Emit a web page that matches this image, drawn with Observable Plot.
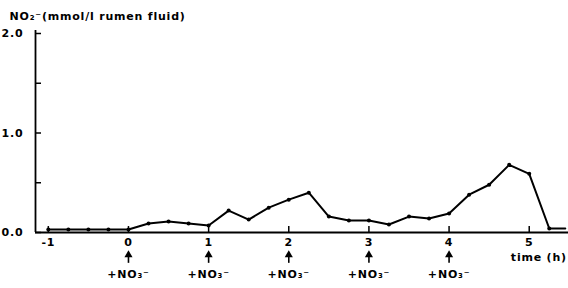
<!DOCTYPE html>
<html><head><meta charset="utf-8">
<script src="https://cdn.jsdelivr.net/npm/d3@7"></script>
<script src="https://cdn.jsdelivr.net/npm/@observablehq/plot@0.6"></script>
<style>body{margin:0;background:#fff}</style>
</head><body><div id="chart"></div>
<script>
const times = [-1,-0.75,-0.5,-0.25,0,0.25,0.5,0.75,1,1.25,1.5,1.75,2,2.25,2.5,2.75,3,3.25,3.5,3.75,4,4.25,4.5,4.75,5,5.25,5.45];
const nitrite = [0.03,0.03,0.03,0.03,0.03,0.09,0.11,0.09,0.07,0.22,0.13,0.25,0.33,0.40,0.16,0.12,0.12,0.08,0.16,0.14,0.19,0.38,0.48,0.68,0.59,0.04,0.04];
const xTicks = [-1,0,1,2,3,4,5];
const yTicks = [0,0.5,1,1.5,2];
const yLabels = [0,1,2];
const additions = [0,1,2,3,4];
const addLabel = "+NO\u2083\u207B";
const yTitle = "NO\u2082\u207B(mmol/l rumen fluid)";
const xTitle = "time (h)";

const data = times.map((t,i)=>({t, v: nitrite[i]}));
const xmin = -1.16, xmax = 5.49;
const font = "DejaVu Sans, Liberation Sans, sans-serif";

const chart = Plot.plot({
  width: 568, height: 288,
  marginLeft: 35, marginRight: 0, marginTop: 33, marginBottom: 56,
  style: {fontFamily: font, fontSize: "11px", fontWeight: 600, letterSpacing: "0.8px", color: "#000", background: "#fff", overflow: "visible"},
  x: {domain: [xmin, xmax]},
  y: {domain: [0, 2]},
  marks: [
    Plot.axisX(xTicks, {tickSize: 0, tickPadding: 6, tickFormat: d => d, fontSize: 11, label: null}),
    Plot.axisY(yLabels, {tickSize: 0, tickPadding: 12, tickFormat: d3.format(".1f"), fontSize: 11, label: null}),
    Plot.ruleY([0], {x1: xmin, x2: xmax, stroke: "#000", strokeWidth: 1.8}),
    Plot.ruleX([xmin], {y1: 0, y2: 2.03, stroke: "#000", strokeWidth: 1.8}),
    Plot.ruleX(xTicks, {x: d => d, y1: 0, y2: 0.06, stroke: "#000", strokeWidth: 1.5}),
    Plot.ruleY(yTicks, {y: d => d, x1: xmin, x2: xmin + 0.075, stroke: "#000", strokeWidth: 1.5}),
    Plot.line(data, {x: "t", y: "v", stroke: "#000", strokeWidth: 2}),
    Plot.dot(data.slice(0, 26), {x: "t", y: "v", r: 2, fill: "#000", stroke: null}),
    Plot.ruleX(additions, {x: d => d, y1: -0.31, y2: -0.22, stroke: "#000", strokeWidth: 1.6}),
    Plot.dot(additions, {x: d => d, y: -0.225, symbol: "triangle", r: 3, fill: "#000", stroke: null}),
    Plot.text(additions, {x: d => d, y: -0.42, text: () => addLabel, fontSize: 11, fill: "#000"}),
    Plot.text([xTitle], {x: 5.47, y: -0.25, text: d => d, textAnchor: "end", fontSize: 11, fill: "#000"}),
    Plot.text([yTitle], {frameAnchor: "top-left", dx: -26, dy: -21, text: d => d, textAnchor: "start", fontSize: 11, fill: "#000"})
  ]
});
document.getElementById("chart").append(chart);
</script>
</body></html>
